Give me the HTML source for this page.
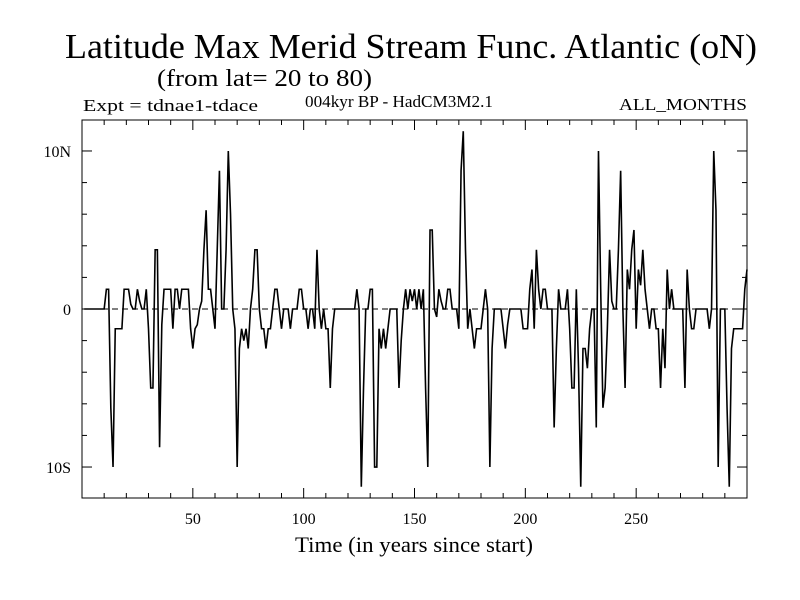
<!DOCTYPE html>
<html><head><meta charset="utf-8"><style>
html,body{margin:0;padding:0;background:#fff;}
svg{display:block;font-family:"Liberation Serif",serif;}
</style></head><body>
<svg id="chart" width="800" height="600" viewBox="0 0 800 600" xmlns="http://www.w3.org/2000/svg">
<rect width="800" height="600" fill="#fff"/>
<text x="65" y="58" font-size="35" textLength="692" lengthAdjust="spacingAndGlyphs">Latitude Max Merid Stream Func. Atlantic (oN)</text>
<text x="157" y="86" font-size="24" textLength="215" lengthAdjust="spacingAndGlyphs">(from lat= 20 to 80)</text>
<text x="83" y="111" font-size="17" textLength="175" lengthAdjust="spacingAndGlyphs">Expt = tdnae1-tdace</text>
<text x="305" y="107" font-size="17" textLength="188" lengthAdjust="spacingAndGlyphs">004kyr BP - HadCM3M2.1</text>
<text x="619" y="110" font-size="17" textLength="128" lengthAdjust="spacingAndGlyphs">ALL_MONTHS</text>
<text x="295" y="552" font-size="22" textLength="238" lengthAdjust="spacingAndGlyphs">Time (in years since start)</text>
<g id="axes"></g>
<g id="series"></g>
<rect x="82" y="120" width="665" height="378" fill="none" stroke="#000" stroke-width="1"/>
</svg>
<script>
const years = Array.from({length:300},(_,i)=>i+1);
const values = [
0,0,0,0,0,0,0,0,0,0,
1.25,1.25,-6.25,-10,-1.25,-1.25,-1.25,-1.25,1.25,1.25,
1.25,0.3,0,0,1.25,0.5,0,0,1.25,-1.25,
-5,-5,3.75,3.75,-8.75,-1,1.25,1.25,1.25,1.25,
-1.25,1.25,1.25,0,1.25,1.25,1.25,1.25,-1.25,-2.5,
-1.25,-1,0,0.5,3.75,6.25,1.25,1.25,0,-1.25,
3.75,8.75,0,0,3.75,10,6,0,-1.25,-10,
-2.5,-1.25,-2,-1.25,-2.5,0,1.25,3.75,3.75,0,
-1.25,-1.25,-2.5,-1.25,-1.25,0,1.25,1.25,0,-1.25,
0,0,0,-1.25,0,0,0,1.25,1.25,0,
0,-1.25,0,0,-1.25,3.75,0,-1.25,0,-1.25,
-1.25,-5,-1.25,0,0,0,0,0,0,0,
0,0,0,1.25,0,-11.25,-5,0,0,1.25,
1.25,-10,-10,-1.25,-2.5,-1.25,-2.5,-1.25,0,0,
0,0,-5,-2,0,1.25,0,1.25,0.5,1.25,
0,1.25,0,1.25,-5,-10,5,5,0,-0.5,
1.25,0.5,0,0,1.25,1.25,0,0,0,-1.25,
8.75,11.25,3.75,-1.25,0,-1.25,-2.5,-1.25,-1.25,-1.25,
0,1.25,0,-10,-2.5,0,0,0,0,-1.25,
-2.5,-1,0,0,0,0,0,0,-1.25,-1.25,
-1.25,1.25,2.5,-1.25,3.75,1.25,0,1.25,1.25,0,
0,0,-7.5,-2.5,1.25,0,0,0,1.25,-1.25,
-5,-5,1.25,-3.75,-11.25,-2.5,-2.5,-3.75,-1.25,0,
0,-7.5,10,1.25,-6.25,-5,-1.25,3.75,0.5,0,
0,3.75,8.75,0,-5,2.5,1.25,3.75,5,-1.25,
2.5,1.5,3.75,1.25,0,-1.25,0,0,-1.25,-1.25,
-5,-1.25,-3.75,2.5,0,1.25,0,0,0,0,
0,-5,2.5,0,-1.25,-1.25,0,0,0,0,
0,0,-1.25,0,10,6.25,-10,0,0,0,
-6.25,-11.25,-2.5,-1.25,-1.25,-1.25,-1.25,-1.25,1.25,2.5
];
const xTickLabels = [50,100,150,200,250];
const yTickValues = [10,0,-10];
const yTickLabels = ["10N","0","10S"];

const X0=82,X1=747,Y0=120,Y1=498;
const xMin=0,xMax=300,yMin=-11.96,yMax=11.96;
function xs(v){return X0+(v-xMin)/(xMax-xMin)*(X1-X0);}
function ys(v){return Y1-(v-yMin)/(yMax-yMin)*(Y1-Y0);}
const NS="http://www.w3.org/2000/svg";
const axes=document.getElementById('axes');
const series=document.getElementById('series');
function mk(tag,attrs,parent){const e=document.createElementNS(NS,tag);for(const k in attrs)e.setAttribute(k,attrs[k]);parent.appendChild(e);return e;}

for(let t=10;t<300;t+=10){
  const major=t%50===0, L=major?10:5, x=xs(t);
  const a=mk('line',{x1:x,x2:x,y1:Y1,y2:Y1-L,stroke:'#000'},axes);
  
  
  const b=mk('line',{x1:x,x2:x,y1:Y0,y2:Y0+L,stroke:'#000'},axes);
  
  
}
xTickLabels.forEach(v=>{
  const t=mk('text',{x:xs(v),y:524,'font-size':16,'text-anchor':'middle'},axes);
  t.textContent=v;
  
  
});
for(let v=-10;v<=10;v+=2){
  const major=v%10===0, L=major?10:5, y=ys(v);
  const a=mk('line',{x1:X0,x2:X0+L,y1:y,y2:y,stroke:'#000'},axes);
  
  
  const b=mk('line',{x1:X1,x2:X1-L,y1:y,y2:y,stroke:'#000'},axes);
  
  
}
yTickValues.forEach((v,i)=>{
  const t=mk('text',{x:71,y:ys(v)+6,'font-size':16,'text-anchor':'end'},axes);
  t.textContent=yTickLabels[i];
  
  
});
const zl=mk('line',{x1:X0,x2:X1,y1:ys(0),y2:ys(0),stroke:'#000','stroke-dasharray':'6,4'},axes);



const pts=years.map((yr,i)=>xs(yr).toFixed(2)+','+ys(values[i]).toFixed(2)).join(' ');
const pl=mk('polyline',{points:pts,fill:'none',stroke:'#000','stroke-width':1.6,'stroke-linejoin':'miter'},series);


</script>
</body></html>
